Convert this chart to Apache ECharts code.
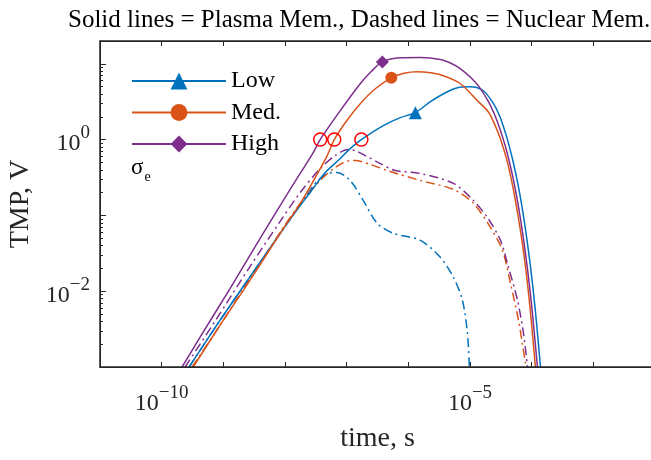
<!DOCTYPE html>
<html style="height: 100%">

<head>
  <meta charset="UTF-8" />
  <title>TMP vs time</title>
  <script src="https://cdn.jsdelivr.net/npm/echarts@6/dist/echarts.min.js"></script>
</head>

<body style="height: 100%; margin: 0">
  <div id="main" style="width: 651px; height: 460px"></div>
  <script>
    // [time (s), TMP (V)] pairs
    const plasmaLow = [
      [2.79e-10, 1e-3], [8.87e-10, 4.15e-3], [3.95e-9, 2.41e-2], [1.21e-8, 8.86e-2], [2.56e-8, 0.201],
      [4.50e-8, 0.368], [7.87e-8, 0.562], [1.14e-7, 0.761], [1.73e-7, 1.0], [3.93e-7, 1.53],
      [7.41e-7, 1.95], [1.30e-6, 2.27], [2.28e-6, 3.16], [3.99e-6, 4.15], [6.24e-6, 4.83],
      [1.01e-5, 4.98], [1.65e-5, 4.41], [2.40e-5, 2.98], [3.0e-5, 2.08], [3.5e-5, 1.47],
      [4.05e-5, 1.0], [5.0e-5, 0.515], [6.0e-5, 0.256], [7.0e-5, 0.127], [8.0e-5, 6.3e-2],
      [9.0e-5, 3.1e-2], [1.0e-4, 1.56e-2], [1.1e-4, 7.7e-3], [1.2e-4, 3.8e-3], [1.39e-4, 1e-3]
    ];
    const plasmaMed = [
      [3.24e-10, 1e-3], [8.87e-10, 3.57e-3], [2.72e-9, 1.40e-2], [8.35e-9, 5.80e-2], [1.77e-8, 0.144],
      [3.09e-8, 0.316], [4.84e-8, 0.616], [6.29e-8, 1.0], [9.48e-8, 1.67], [1.66e-7, 2.98],
      [2.91e-7, 4.69], [5.30e-7, 6.54], [8.5e-7, 7.5], [1.40e-6, 7.85], [2.3e-6, 7.6],
      [3.70e-6, 6.95], [7.0e-6, 5.46], [1.32e-5, 3.26], [2.0e-5, 2.3], [2.5e-5, 1.6],
      [3.12e-5, 1.02], [4.0e-5, 0.52], [5.0e-5, 0.23], [6.0e-5, 0.10], [7.0e-5, 4.5e-2],
      [8.0e-5, 2.0e-2], [9.0e-5, 8.6e-3], [1.0e-4, 3.6e-3], [1.15e-4, 1e-3]
    ];
    const plasmaHigh = [
      [2.14e-10, 1e-3], [4.20e-10, 2.48e-3], [1.29e-9, 1.09e-2], [3.95e-9, 4.98e-2], [1.21e-8, 0.220],
      [2.87e-8, 0.675], [3.72e-8, 1.0], [7.87e-8, 2.41], [1.66e-7, 5.46], [2.5e-7, 7.9],
      [3.79e-7, 10.6], [7.41e-7, 12.0], [1.57e-6, 12.1], [3.30e-6, 11.4], [5.0e-6, 10.1],
      [7.0e-6, 8.6], [1.01e-5, 6.7], [1.4e-5, 5.0], [2.0e-5, 3.15], [2.5e-5, 2.14],
      [3.0e-5, 1.45], [3.5e-5, 0.985], [4.0e-5, 0.67], [5.0e-5, 0.31], [6.0e-5, 0.142],
      [7.0e-5, 6.5e-2], [8.0e-5, 3.0e-2], [9.0e-5, 1.39e-2], [1.0e-4, 6.4e-3], [1.1e-4, 2.9e-3],
      [1.24e-4, 1e-3]
    ];
    const nuclearLow = [
      [2.79e-10, 1e-3], [8.87e-10, 4.15e-3], [3.95e-9, 2.41e-2], [1.21e-8, 8.86e-2], [2.13e-8, 0.173],
      [3.09e-8, 0.264], [4.84e-8, 0.357], [7.03e-8, 0.368], [1.14e-7, 0.289], [1.86e-7, 0.157],
      [3.14e-7, 7.85e-2], [5.70e-7, 5.80e-2], [1.57e-6, 4.69e-2], [3.30e-6, 2.80e-2], [5.38e-6, 1.53e-2],
      [7.53e-6, 7.62e-3], [9.08e-6, 2.80e-3], [9.77e-6, 1e-3]
    ];
    const nuclearMed = [
      [3.12e-10, 1e-3], [8.87e-10, 3.57e-3], [2.72e-9, 1.48e-2], [8.35e-9, 5.98e-2], [1.77e-8, 0.144],
      [3.72e-8, 0.289], [6.53e-8, 0.428], [1.14e-7, 0.529], [1.38e-7, 0.529], [2.42e-7, 0.469],
      [5.10e-7, 0.379], [1.57e-6, 0.289], [5.38e-6, 0.220], [1.14e-5, 0.144], [2.14e-5, 6.95e-2],
      [3.36e-5, 3.46e-2], [4.53e-5, 1.27e-2], [6.11e-5, 4.15e-3], [7.92e-5, 1.13e-3], [8.24e-5, 1e-3]
    ];
    const nuclearHigh = [
      [2.40e-10, 1e-3], [7.36e-10, 4.03e-3], [2.72e-9, 2.13e-2], [8.35e-9, 8.34e-2], [1.77e-8, 0.201],
      [3.72e-8, 0.415], [6.53e-8, 0.616], [1.06e-7, 0.739], [1.38e-7, 0.717], [2.00e-7, 0.616],
      [3.51e-7, 0.483], [6.15e-7, 0.391], [1.57e-6, 0.357], [5.38e-6, 0.264], [1.14e-5, 0.157],
      [1.91e-5, 9.41e-2], [3.12e-5, 4.69e-2], [4.20e-5, 2.07e-2], [5.88e-5, 7.62e-3], [7.36e-5, 2.80e-3],
      [8.55e-5, 1e-3]
    ];

    // one marker on each plasma curve, and where they cross 1 V
    const lowMarker = [1.30e-6, 2.27];
    const medMarker = [5.30e-7, 6.54];
    const highMarker = [3.79e-7, 10.6];
    const thresholdCrossings = [[3.72e-8, 1], [6.29e-8, 1], [1.73e-7, 1]];

    const levels = ['Low', 'Med.', 'High'];
    const xLabelTicks = [1e-10, 1e-5];
    const yLabelTicks = [1e-2, 1e0];

    const colors = ['#0072BD', '#D95319', '#7E2F8E'];
    const serif = '"Liberation Serif", "Times New Roman", serif';
    const axisColor = '#262626';

    const X_MIN = 1e-11, X_MAX = 1e-2, Y_MIN = 1e-3, Y_MAX = 20;
    const plotBox = { left: 100, top: 41, width: 555, height: 326 };

    // minor ticks of the log y axis (2..9 in every decade), on a helper linear axis in log10 units
    const yMinorTicks = [];
    for (let d = -3; d <= 1; d++) {
      for (let m = 2; m <= 9; m++) {
        const v = d + Math.log10(m);
        if (v < Math.log10(Y_MAX)) yMinorTicks.push(v);
      }
    }

    const powLabel = (ticks) => (v) => {
      const hit = ticks.some(t => Math.abs(Math.log10(t) - Math.log10(v)) < 1e-6);
      const p = String(Math.round(Math.log10(v))).replace('-', '\u2212');
      return hit ? '{b|10}{s|' + p + '}' : '';
    };
    const powRich = (raise) => ({
      b: { fontFamily: serif, fontSize: 24, color: axisColor, verticalAlign: 'bottom' },
      s: { fontFamily: serif, fontSize: 19, color: axisColor, verticalAlign: 'bottom', padding: [0, 0, raise, 0] }
    });

    const chart = echarts.init(document.getElementById('main'));

    const solid = [plasmaLow, plasmaMed, plasmaHigh];
    const dashed = [nuclearLow, nuclearMed, nuclearHigh];
    const markers = [lowMarker, medMarker, highMarker];
    const symbols = ['triangle', 'circle', 'diamond'];
    const markerSizes = [13, 12, 13];

    const series = [];
    dashed.forEach((d, i) => {
      series.push({
        name: levels[i] + ' nuclear',
        type: 'line',
        data: d,
        smooth: 0.3,
        showSymbol: false,
        lineStyle: { color: colors[i], width: 1.5, type: [9, 4, 2, 4] },
        itemStyle: { color: colors[i] },
        z: 2
      });
    });
    solid.forEach((d, i) => {
      series.push({
        name: levels[i],
        type: 'line',
        data: d,
        smooth: 0.3,
        symbol: symbols[i],
        showSymbol: false,
        lineStyle: { color: colors[i], width: 1.5 },
        itemStyle: { color: colors[i] },
        z: 3
      });
      series.push({
        name: levels[i] + ' marker',
        type: 'scatter',
        data: [markers[i]],
        symbol: symbols[i],
        symbolSize: markerSizes[i],
        itemStyle: { color: colors[i], opacity: 1 },
        z: 4
      });
    });
    series.push({
      name: 'threshold',
      type: 'scatter',
      data: thresholdCrossings,
      symbol: 'circle',
      symbolSize: 13,
      itemStyle: { color: 'rgba(0,0,0,0)', borderColor: '#FF0000', borderWidth: 1.5, opacity: 1 },
      z: 5
    });

    const axisLine = () => ({ show: true, onZero: false, lineStyle: { color: axisColor, width: 1 } });
    const xBase = () => ({
      type: 'log',
      logBase: 10,
      gridIndex: 0,
      min: X_MIN,
      max: X_MAX,
      splitNumber: 9,
      splitLine: { show: false },
      axisLine: axisLine(),
      axisTick: { show: true, inside: true, length: 5, lineStyle: { color: axisColor } }
    });

    const option = {
      animation: false,
      title: {
        text: 'Solid lines = Plasma Mem., Dashed lines = Nuclear Mem.',
        left: 63,
        top: 3,
        textStyle: { fontFamily: serif, fontSize: 25, fontWeight: 'normal', color: '#000' }
      },
      grid: [
        Object.assign({ outerBoundsMode: 'none' }, plotBox),
        Object.assign({ outerBoundsMode: 'none' }, plotBox)
      ],
      legend: {
        data: levels,
        orient: 'vertical',
        left: 131,
        top: 69,
        padding: 0,
        itemWidth: 94,
        itemHeight: 21,
        itemGap: 7.5,
        textStyle: { fontFamily: serif, fontSize: 24, color: '#000' }
      },
      graphic: [
        {
          // axes box (MATLAB "box on")
          type: 'rect',
          silent: true,
          z: 100,
          shape: { x: plotBox.left, y: plotBox.top, width: plotBox.width, height: plotBox.height },
          style: { fill: 'none', stroke: axisColor, lineWidth: 1.5 }
        },
        {
          type: 'text',
          left: 131,
          top: 156,
          style: {
            text: '{a|σ}{b|e}',
            rich: {
              a: { fontFamily: serif, fontSize: 23, fill: '#000', verticalAlign: 'bottom' },
              b: { fontFamily: serif, fontSize: 14, fill: '#000', verticalAlign: 'bottom', padding: [0, 0, -5, 1] }
            }
          }
        }
      ],
      xAxis: [
        Object.assign(xBase(), {
          position: 'bottom',
          name: 'time, s',
          nameLocation: 'middle',
          nameGap: 58,
          nameTextStyle: { fontFamily: serif, fontSize: 28, color: axisColor },
          axisLabel: { margin: 17, formatter: powLabel(xLabelTicks), rich: powRich(13) }
        }),
        Object.assign(xBase(), {
          position: 'top',
          axisLabel: { show: false }
        }),
        // helper axis of the minor-tick grid
        { type: 'value', gridIndex: 1, show: false, min: 0, max: 1 }
      ],
      yAxis: [
        {
          type: 'log',
          logBase: 10,
          gridIndex: 0,
          min: Y_MIN,
          max: Y_MAX,
          position: 'left',
          name: 'TMP, V',
          nameLocation: 'middle',
          nameGap: 65,
          nameTextStyle: { fontFamily: serif, fontSize: 28, color: axisColor },
          splitLine: { show: false },
          axisLine: axisLine(),
          axisTick: { show: true, inside: true, length: 6, lineStyle: { color: axisColor } },
          axisLabel: { margin: 10, formatter: powLabel(yLabelTicks), rich: powRich(13) }
        },
        {
          type: 'value',
          gridIndex: 1,
          min: -3,
          max: Math.log10(Y_MAX),
          position: 'left',
          splitLine: { show: false },
          axisLine: { show: false, onZero: false },
          axisLabel: { show: false },
          axisTick: { show: true, inside: true, length: 3, customValues: yMinorTicks, lineStyle: { color: axisColor } }
        }
      ],
      series: series
    };

    chart.setOption(option);
  </script>
</body>

</html>
